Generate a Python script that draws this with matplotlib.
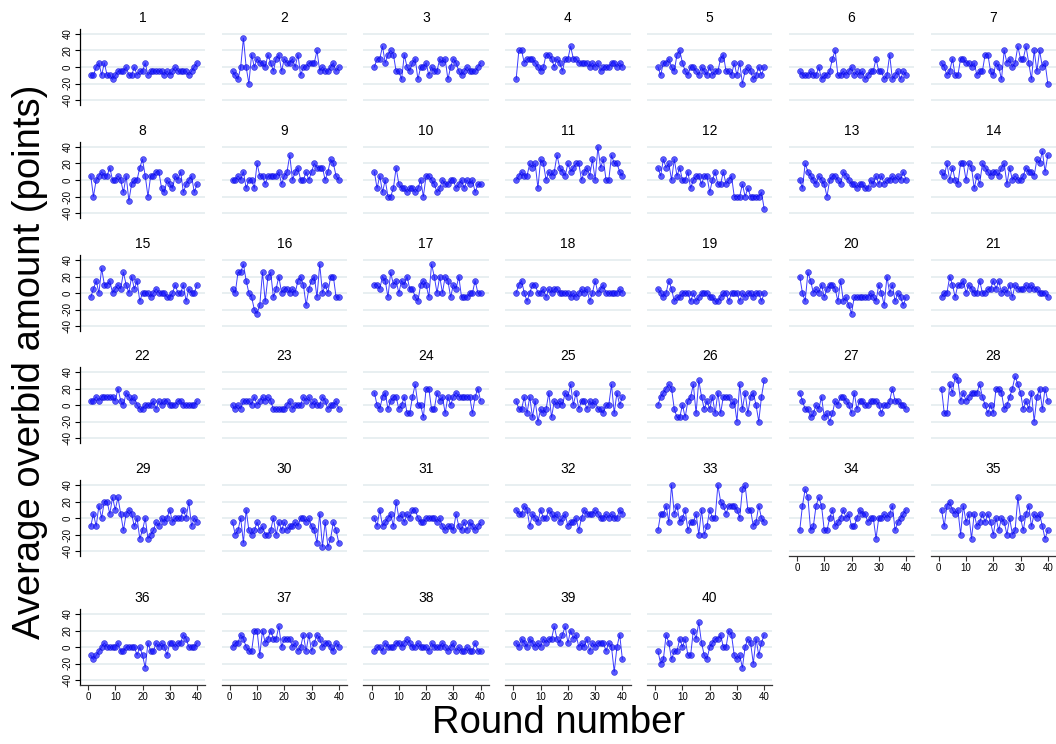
"""
Small multiples of average overbid per round, one panel per subject.
Saves out.png.
"""

import numpy as np
import matplotlib
matplotlib.use("Agg")
import matplotlib.pyplot as plt

rounds = list(range(1, 41))

s1 = [-10, -10, 0, 5, -10, 5, -10, -10, -15, -10, -5, -5, -5, 0, -10, -10, 0, -10, -5, -5,
      5, -10, -5, -5, -5, -5, -5, -10, -5, -10, -5, 0, -5, -5, -5, -5, -10, -5, 0, 5]
s2 = [-5, -10, -15, 0, 35, 0, -20, 15, 0, 10, 5, 5, 0, 15, 5, -5, 10, 15, -5, 10,
      5, 5, 10, 0, 15, -10, 0, 0, 5, 5, 5, 20, -5, 0, -5, -5, 0, 5, -5, 0]
s3 = [0, 10, 10, 25, 5, 15, 20, 15, -5, -5, -15, 15, 0, -5, 5, 10, -15, 0, 0, 5,
      -10, 0, -5, -5, 10, 5, 10, -15, 0, 10, 5, -5, -10, -5, 0, -5, -5, -5, 0, 5]
s4 = [-15, 20, 20, 5, 10, 10, 10, 5, 0, -5, 0, 15, 15, 10, 0, 10, 5, -5, 10, 10,
      25, 10, 10, 5, 5, 5, 5, 0, 5, 0, 5, -5, 0, 0, 0, 5, 5, 0, 5, 0]
s5 = [0, -10, 5, 5, 10, 0, -5, 15, 20, 5, -5, -10, 0, 0, -5, -10, 0, -5, -10, 0,
      -10, -5, -5, 10, 15, -5, -5, -10, 5, -10, 5, -20, -5, 0, -5, -15, -10, 0, -10, 0]
s6 = [-5, -10, -10, -10, -5, -10, -10, 0, -15, -10, -10, -5, 10, 20, -10, -10, -5, -10, -5, 0,
      -10, -5, -10, -5, -15, -10, -5, -5, 10, -5, -5, -15, -10, 15, -15, -10, -5, -15, -5, -10]
s7 = [5, 0, -10, -5, 10, -10, -10, 10, 10, 5, 5, 0, 5, -10, -5, -5, 15, 15, -5, -10,
      5, 0, -15, 20, 5, 10, 0, 5, 25, 10, 10, 25, 5, -15, 20, -5, 20, 0, 5, -20]
s8 = [5, -20, 0, 5, 10, 5, 5, 15, 0, 0, 5, 0, -15, 5, -25, -5, 0, 0, 15, 25,
      5, -20, 5, 5, 10, 10, -10, -15, 0, -5, -10, 5, 0, 10, -15, -5, 0, 5, -15, -5]
s9 = [0, 0, 5, 0, 10, -10, 0, 0, -10, 20, 5, 5, -5, 5, 5, 5, 5, 10, -5, 5,
      10, 30, 0, 10, 15, 0, 0, 10, 0, 10, 20, 15, 15, 15, 0, 10, 25, 20, 5, 0]
s10 = [10, -10, 5, -15, 0, -20, -20, -10, 15, -5, -10, -10, -15, -10, -10, -15, -10, 0, -20, 5,
       5, 0, -5, -15, -10, 0, -5, -5, 0, 0, -10, -5, 0, -10, 0, -5, 0, -15, -5, -5]
s11 = [0, 5, 10, 5, 5, 20, 15, 20, -10, 25, 20, 0, 10, 5, 10, 30, 15, 10, 5, 20,
       10, 15, 20, 20, 0, 10, 15, 5, 25, 0, 40, 15, 25, 0, 0, 30, 20, 20, 10, 5]
s12 = [15, 5, 25, 15, 20, 0, 25, 5, 15, 0, 0, 10, -10, 0, 5, 5, -5, 5, 5, -15,
       0, 10, -5, -5, 10, -5, 0, 5, -20, -20, -20, -5, -20, -10, -20, -20, -20, -20, -15, -35]
s13 = [0, -10, 20, 10, 5, 0, -5, 5, 0, -5, -20, 0, 5, 5, 0, -5, 10, 5, 0, -5,
       -5, -10, -5, -5, -10, -10, 0, -5, 5, -5, 5, -5, 0, 0, 5, 0, 5, 0, 10, 0]
s14 = [10, 5, 20, 0, 15, 0, -5, 20, 20, 0, 20, 15, -10, 5, -5, 20, 15, 10, 5, 10,
       10, 5, 15, 20, -5, 15, 0, 5, 0, 0, 5, 15, 10, 10, 5, 25, 20, 35, 10, 30]
s15 = [-5, 5, 15, 0, 30, 10, 10, 15, 0, 5, 10, 5, 25, 10, 0, 20, 5, 15, -10, 0,
       0, 0, -5, 0, 5, 0, 0, 0, -5, -5, 0, 10, 0, 0, 10, -10, 5, 0, 0, 10]
s16 = [5, 0, 25, 25, 35, 15, 0, -5, -20, -25, -15, 25, -10, 20, 25, -5, 5, 20, 0, 5,
       5, 0, 5, 0, 15, 20, 10, -15, 5, 15, 20, -5, 35, 0, 10, 0, 20, 20, -5, -5]
s17 = [10, 10, 5, 20, 15, -5, 25, 10, 15, 0, 15, 10, 20, 5, 5, -5, -10, 10, 15, 10,
       -5, 35, 20, 0, 20, 0, 20, 15, -5, 10, 5, 20, -5, -5, -5, 0, 0, 15, 0, 0]
s18 = [0, 10, 15, 0, -10, 0, 10, 10, 0, 0, 5, -5, 5, 0, 5, 5, 0, 0, 0, 0,
       -5, 0, -5, 0, 5, 0, 5, -10, 0, 15, 0, 5, 10, 0, 0, 0, 0, 0, 5, 0]
s19 = [5, 0, -5, 0, 15, 5, -10, -5, -5, 0, 0, 0, -10, 0, -10, -5, 0, 0, 0, -5,
       -5, -10, -10, -5, 0, 0, -10, 0, 0, 0, -10, 0, -5, 0, 0, -5, 0, 0, -10, 0]
s20 = [20, 0, -10, 25, 15, 0, 5, 0, 10, -5, 5, 10, 10, 5, -10, 15, -10, -5, -15, -25,
       -5, -5, -5, -5, -5, -5, 0, -5, -10, 10, 0, -15, 20, 0, 10, -10, 0, -5, -15, -5]
s21 = [-5, 0, 0, 20, 10, -5, 10, 10, 15, 0, 10, 5, 0, 0, 15, 0, 0, 5, 5, 15,
       5, 15, 0, 5, 0, 10, -5, 10, 5, 5, 5, 10, 5, 10, 5, 5, 0, 0, 0, -5]
s22 = [5, 5, 10, 5, 10, 10, 10, 10, 10, 5, 20, 5, 0, 15, 10, 5, 10, 0, -5, -5,
       0, 0, 0, 5, -5, 5, 0, 5, 5, 0, 0, 0, 5, 5, 0, 0, 0, 0, 0, 5]
s23 = [0, -5, 0, -5, 5, 5, 5, 0, 10, 0, 5, 10, 5, 10, 5, -5, -5, -5, -5, -5,
       0, 5, -5, 0, 0, 0, 10, 5, 10, 0, 5, 0, 0, 10, 5, -5, 0, 0, 5, -5]
s24 = [15, 0, -5, 10, 15, -5, 5, 10, 10, -5, 0, 10, -10, -10, 10, 25, 0, 0, -15, 20,
       20, -5, -5, 15, 5, 10, -10, 10, 0, 10, 15, 10, 10, 10, 10, 10, -10, 10, 20, 5]
s25 = [5, -5, -5, 10, -10, 10, -15, 5, -20, -5, -10, -5, 15, -15, 5, 0, 5, 0, 15, 10,
       25, 0, 15, -5, 5, 5, -5, 5, 0, 5, -5, -5, -10, 0, 0, 25, -10, 15, 0, 10]
s26 = [0, 10, 15, 20, 25, 20, -5, -15, -15, 0, -15, 5, 10, 25, -10, 30, 10, -5, 5, -5,
       10, -10, 15, -10, 10, 10, 10, 0, 5, -20, 25, -5, 15, -10, 10, 15, 0, -20, 10, 30]
s27 = [15, 5, -5, -5, -15, -10, 0, -5, 10, -15, -10, -20, -10, 5, 0, 10, 10, 5, 0, -10,
       15, -5, 5, 5, 0, 0, 5, 5, 5, 0, -10, 0, 0, 5, 20, 5, 5, 0, 0, -5]
s28 = [20, -10, -10, 25, 15, 35, 30, 5, 15, 5, 10, 15, 15, 15, 25, 10, 0, -10, 0, -10,
       20, 20, 15, -5, 0, 10, 20, 35, 25, 15, -5, 5, -5, 15, -20, 10, 20, -5, 20, 5]
s29 = [-10, 5, -10, 15, 0, 20, 20, 5, 25, 10, 25, 5, -15, 5, 10, 5, -10, 0, -25, -15,
       0, -25, -20, -15, -5, -10, 0, -5, 0, 10, -5, 0, 0, 0, 10, 0, 20, -10, 0, -5]
s30 = [-5, -20, -15, 0, -30, 10, -15, -20, -15, -5, -15, -10, -20, -20, -15, 0, -20, -5, -15, -5,
       -15, -10, -10, -5, -10, 0, 0, -5, 0, -10, -15, -30, 5, -35, -5, -35, -25, -5, -15, -30]
s31 = [0, -10, 10, -10, -5, 0, 5, -10, 20, 0, 5, -5, 5, 0, 10, 10, 0, -5, -5, 0,
       0, 0, 0, -5, 0, -10, -15, -10, -10, -15, 5, -10, -15, -5, -15, -5, -10, -15, -10, -5]
s32 = [10, 5, 5, 15, 10, -10, 5, 0, -5, 10, 0, 0, 10, 5, 0, 5, -5, 0, 5, -10,
       -5, -5, 0, -15, 0, 10, 5, 5, 5, 10, 5, 0, 0, 5, 0, 5, 0, 0, 10, 5]
s33 = [-15, 5, 5, 15, -5, 40, 5, 15, -5, 0, 10, -15, -5, -5, 5, -20, 10, -20, -10, 10,
       0, 0, 40, 20, 15, 5, 15, 15, 15, 10, 0, 35, 40, 10, 10, -10, -5, 15, 0, -5]
s34 = [-15, 15, 35, 25, -15, -10, 15, 25, 15, -15, -15, 0, 10, -10, -5, 0, 10, 0, 5, -10,
       -10, 0, 10, 5, 5, -5, 0, 0, -25, 0, 0, 5, 0, 5, 15, -15, -5, 0, 5, 10]
s35 = [10, -10, 15, 20, 10, 5, 10, -20, 15, -5, 5, -25, 5, -10, -5, 5, -5, 5, -5, -20,
       0, -15, 0, -5, -20, 0, -20, -15, 25, 0, -15, 5, 15, -10, 5, 0, 5, -10, -25, -15]
s36 = [-10, -15, -10, -5, 0, 5, 0, 0, 0, 0, 5, -5, -5, 0, 0, 0, 0, -10, 0, -10,
       -25, 5, -5, -5, 5, 0, 5, 0, -10, 5, 5, 0, 5, 5, 15, 10, 0, 0, 0, 5]
s37 = [0, 5, 5, 15, 10, 0, -5, -5, 20, 20, -10, 20, 5, 10, 20, 10, 10, 25, 0, 10,
       10, 10, 0, 5, -5, 0, 15, -5, 15, -5, 5, 15, 10, 0, 5, 5, 0, -5, 5, 0]
s38 = [-5, 0, 0, -5, 5, 0, 0, 0, 5, 5, 0, 5, 10, 5, 0, 0, 5, 0, 0, 0,
       -5, 5, 0, 0, 0, 5, 0, -5, 0, 5, -5, 0, -5, -5, 0, -5, -5, 5, -5, -5]
s39 = [5, 0, 10, 5, 0, 10, 5, 0, 5, 0, 10, 5, 10, 10, 25, 10, 5, 15, 25, 5,
       20, 10, 15, 0, 5, 0, 10, -5, 5, 0, 5, 5, 5, -5, 5, 0, -30, 0, 15, -15]
s40 = [-5, -20, -15, 15, 5, -15, -5, -5, 10, 0, 10, -10, -10, 20, 10, 30, 5, -10, -15, 0,
       5, 10, 10, 15, 0, 0, 20, 15, -10, -15, -10, -25, 0, 10, 5, -20, 10, -10, 5, 15]

series = [s1, s2, s3, s4, s5, s6, s7, s8, s9, s10, s11, s12, s13, s14, s15, s16, s17, s18, s19, s20,
          s21, s22, s23, s24, s25, s26, s27, s28, s29, s30, s31, s32, s33, s34, s35, s36, s37, s38, s39, s40]
panel_titles = [str(i) for i in range(1, 41)]
y_ticks = [-40, -20, 0, 20, 40]
x_ticks = [0, 10, 20, 30, 40]

W, H = 1056, 744
N_COLS = 7
ROW_ZERO = [67, 180, 293, 405, 518, 647]
COL_ZERO = [88 + 141.8 * c for c in range(N_COLS)]
PX_X = 2.725
PX_Y = 0.825
XLIM = (-3, 43)
YLIM = (-46, 46)

GRID_COLOR = "#e6eef0"
MARK_COLOR = "#1a1aff"

plt.rcParams.update({
    "font.family": ["Liberation Sans", "DejaVu Sans"],
    "axes.linewidth": 0.9,
})

fig = plt.figure(figsize=(W / 100, H / 100), dpi=100)

n = len(series)
for k, vals in enumerate(series):
    r, c = divmod(k, N_COLS)
    left = (COL_ZERO[c] + XLIM[0] * PX_X) / W
    width = (XLIM[1] - XLIM[0]) * PX_X / W
    bottom_px = ROW_ZERO[r] - YLIM[0] * PX_Y
    height = (YLIM[1] - YLIM[0]) * PX_Y / H
    ax = fig.add_axes([left, 1 - bottom_px / H, width, height])

    ax.plot(rounds, vals, "-", color=MARK_COLOR, linewidth=0.7, alpha=0.85, zorder=2)
    ax.plot(rounds, vals, "o", color=MARK_COLOR, markersize=4.2, alpha=0.72,
            markeredgewidth=0.4, markeredgecolor="#0000cc", zorder=3)

    ax.set_xlim(*XLIM)
    ax.set_ylim(*YLIM)
    ax.set_yticks(y_ticks)
    ax.set_xticks(x_ticks)
    ax.set_axisbelow(True)
    ax.grid(axis="y", color=GRID_COLOR, linewidth=1.3)
    ax.grid(axis="x", visible=False)
    ax.set_facecolor("none")
    ax.set_title(panel_titles[k], fontsize=10, pad=5)

    for side in ["top", "right", "left", "bottom"]:
        ax.spines[side].set_visible(False)

    if c == 0:
        ax.spines["left"].set_visible(True)
        ax.tick_params(axis="y", length=3.5, width=0.8, labelsize=7, pad=1.5)
        ax.set_yticklabels([str(t) for t in y_ticks], rotation=90, va="center")
    else:
        ax.tick_params(axis="y", left=False, labelleft=False)

    is_bottom = k + N_COLS >= n
    if is_bottom:
        ax.spines["bottom"].set_visible(True)
        ax.spines["bottom"].set_color("#333333")
        ax.tick_params(axis="x", length=3.5, width=0.8, labelsize=7, pad=1.5,
                       color="#333333")
    else:
        ax.tick_params(axis="x", bottom=False, labelbottom=False)

fig.text(30 / W, 1 - 362 / H, "Average overbid amount (points)", rotation=90,
         ha="center", va="center", fontsize=27.5)
fig.text(559 / W, 1 - 723 / H, "Round number", ha="center", va="center", fontsize=27.5)

fig.savefig("out.png", dpi=100)
